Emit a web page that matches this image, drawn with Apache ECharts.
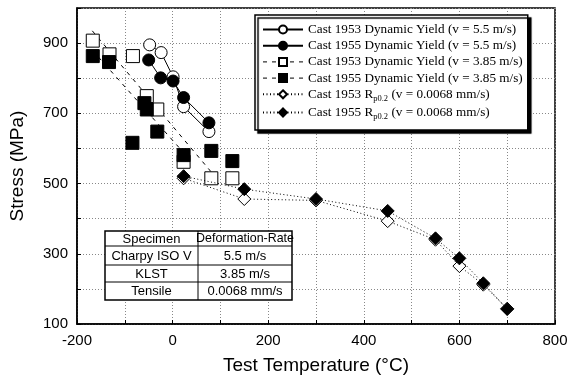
<!DOCTYPE html>
<html>
<head>
<meta charset="utf-8">
<script src="https://cdn.jsdelivr.net/npm/echarts@6/dist/echarts.min.js"></script>
<style>html,body{margin:0;padding:0;background:#fff}#c{width:571px;height:376px}</style>
</head>
<body>
<div id="c"></div>
<script>
// ---- data ----
const xTickLabels = [-200, 0, 200, 400, 600, 800];
const yTickLabels = [100, 300, 500, 700, 900];

const seriesNames = [
  'Cast 1953 Dynamic Yield (v = 5.5 m/s)',
  'Cast 1955 Dynamic Yield (v = 5.5 m/s)',
  'Cast 1953 Dynamic Yield (v = 3.85 m/s)',
  'Cast 1955 Dynamic Yield (v = 3.85 m/s)',
  'Cast 1953 Rp0.2 (v = 0.0068 mm/s)',
  'Cast 1955 Rp0.2 (v = 0.0068 mm/s)'
];

const cast1953_55 = [[-48, 895], [-24, 873], [1, 804], [23, 719], [76, 648]];
const cast1955_55 = [[-50, 852], [-25, 801], [1, 792], [23, 745], [76, 673]];
const cast1953_385 = [[-167, 907], [-132, 868], [-83, 863], [-54, 749], [-32, 711], [23, 562], [81, 515], [125, 515]];
const cast1955_385 = [[-167, 863], [-133, 846], [-84, 616], [-59, 729], [-54, 711], [-32, 648], [23, 581], [81, 593], [125, 564]];
const fit1953_385 = [[-168, 935], [95, 510]];
const fit1955_385 = [[-155, 860], [25, 585]];
const rp1953 = [[23, 515], [150, 456], [300, 452], [450, 393], [550, 340], [600, 265], [650, 212], [700, 143]];
const rp1955 = [[23, 521], [150, 484], [300, 456], [450, 422], [550, 344], [600, 287], [650, 216], [700, 143]];

const tableHeader = ['Specimen', 'Deformation-Rate'];
const tableSpecimens = ['Charpy ISO V', 'KLST', 'Tensile'];
const tableRates = ['5.5 m/s', '3.85 m/s', '0.0068 mm/s'];

// ---- chart ----
const chart = echarts.init(document.getElementById('c'), null, {renderer: 'canvas'});
const serif = '"Liberation Serif", "Times New Roman", serif';
const sans = '"Liberation Sans", Arial, sans-serif';
const openStyle = {color: '#fff', borderColor: '#000', borderWidth: 1};
const fillStyle = {color: '#000', borderColor: '#000', borderWidth: 1};
const dashType = [4, 5];
const dotType = [1, 2.5];

// table graphics
const tX = [105, 198, 292];
const tY = [231, 246, 265, 282, 300];
const tableEls = [];
tableEls.push({type: 'rect', shape: {x: tX[0], y: tY[0], width: tX[2] - tX[0], height: tY[4] - tY[0]},
  style: {fill: '#fff', stroke: '#000', lineWidth: 1.5}, z: 10});
for (let i = 1; i < 4; i++) tableEls.push({type: 'line', shape: {x1: tX[0], y1: tY[i], x2: tX[2], y2: tY[i]}, style: {stroke: '#000', lineWidth: 1}, z: 11});
tableEls.push({type: 'line', shape: {x1: tX[1], y1: tY[0], x2: tX[1], y2: tY[4]}, style: {stroke: '#000', lineWidth: 1}, z: 11});
const rows = [tableHeader].concat(tableSpecimens.map((s, i) => [s, tableRates[i]]));
rows.forEach((r, i) => {
  r.forEach((t, j) => {
    const fs = (i === 0 && j === 1) ? 12.4 : 13;
    tableEls.push({type: 'text', x: (tX[j] + tX[j + 1]) / 2, y: (tY[i] + tY[i + 1]) / 2 + 0.5,
      style: {text: t, font: fs + 'px ' + sans, fill: '#000', align: 'center', verticalAlign: 'middle'}, z: 12});
  });
});

const legendData = seriesNames.map((n, i) => {
  const d = {name: n};
  if (i === 2 || i === 3) d.lineStyle = {opacity: 1, type: dashType, color: '#000', width: 1};
  return d;
});

chart.setOption({
  animation: false,
  backgroundColor: '#fff',
  grid: {left: 77, right: 16, top: 8, bottom: 52, show: true, borderColor: '#000', borderWidth: 1.5,
    backgroundColor: 'transparent', containLabel: false, outerBoundsMode: 'none'},
  legend: {
    data: legendData,
    orient: 'vertical', left: 255, top: 15,
    backgroundColor: '#fff', borderColor: '#000', borderWidth: 1.5,
    shadowColor: '#000', shadowOffsetX: 3, shadowOffsetY: 3, shadowBlur: 1,
    padding: [8, 5, 9, 7], itemWidth: 40, itemHeight: 10, itemGap: 3.2,
    selectedMode: false,
    formatter: n => n.replace('Rp0.2', 'R{sub|p0.2}'),
    textStyle: {fontFamily: serif, fontSize: 13.2, color: '#000',
      rich: {sub: {fontFamily: serif, fontSize: 8.5, color: '#000', padding: [8, 0, 0, 0]}}}
  },
  xAxis: {
    type: 'value', min: -200, max: 800, interval: 100,
    name: 'Test Temperature (°C)', nameLocation: 'middle', nameGap: 32,
    nameTextStyle: {fontFamily: sans, fontSize: 19, color: '#000'},
    axisLine: {onZero: false, lineStyle: {color: '#000', width: 1.5}},
    axisTick: {inside: true, length: 4, lineStyle: {color: '#000'}},
    axisLabel: {fontFamily: sans, fontSize: 15, color: '#000', margin: 9,
      formatter: v => xTickLabels.indexOf(v) >= 0 ? String(v) : ''},
    splitLine: {show: true, lineStyle: {color: '#888', width: 1, type: [1, 2]}}
  },
  yAxis: {
    type: 'value', min: 100, max: 1000, interval: 100,
    name: 'Stress (MPa)', nameLocation: 'middle', nameGap: 49.5,
    nameTextStyle: {fontFamily: sans, fontSize: 19, color: '#000'},
    axisLine: {onZero: false, lineStyle: {color: '#000', width: 1.5}},
    axisTick: {inside: true, length: 4, lineStyle: {color: '#000'}},
    axisLabel: {fontFamily: sans, fontSize: 15, color: '#000', margin: 9,
      formatter: v => yTickLabels.indexOf(v) >= 0 ? String(v) : ''},
    splitLine: {show: true, lineStyle: {color: '#888', width: 1, type: [1, 2]}}
  },
  series: [
    {name: 'fitA', type: 'line', data: fit1953_385, symbol: 'none', lineStyle: {color: '#000', width: 1, type: dashType}, z: 2},
    {name: 'fitB', type: 'line', data: fit1955_385, symbol: 'none', lineStyle: {color: '#000', width: 1, type: dashType}, z: 2},
    {name: seriesNames[2], type: 'line', data: cast1953_385, symbol: 'rect', symbolSize: 13,
      lineStyle: {opacity: 0, color: '#000', width: 1, type: dashType}, itemStyle: openStyle, z: 3},
    {name: seriesNames[3], type: 'line', data: cast1955_385, symbol: 'rect', symbolSize: 13,
      lineStyle: {opacity: 0, color: '#000', width: 1, type: dashType}, itemStyle: fillStyle, z: 4},
    {name: seriesNames[0], type: 'line', data: cast1953_55, symbol: 'circle', symbolSize: 12,
      lineStyle: {color: '#000', width: 1}, itemStyle: openStyle, z: 5},
    {name: seriesNames[1], type: 'line', data: cast1955_55, symbol: 'circle', symbolSize: 12,
      lineStyle: {color: '#000', width: 1}, itemStyle: fillStyle, z: 6},
    {name: seriesNames[4], type: 'line', data: rp1953, symbol: 'diamond', symbolSize: 13,
      lineStyle: {color: '#000', width: 1, type: dotType}, itemStyle: openStyle, z: 7},
    {name: seriesNames[5], type: 'line', data: rp1955, symbol: 'diamond', symbolSize: 13,
      lineStyle: {color: '#000', width: 1, type: dotType}, itemStyle: fillStyle, z: 8}
  ],
  graphic: tableEls
});
</script>
</body>
</html>
